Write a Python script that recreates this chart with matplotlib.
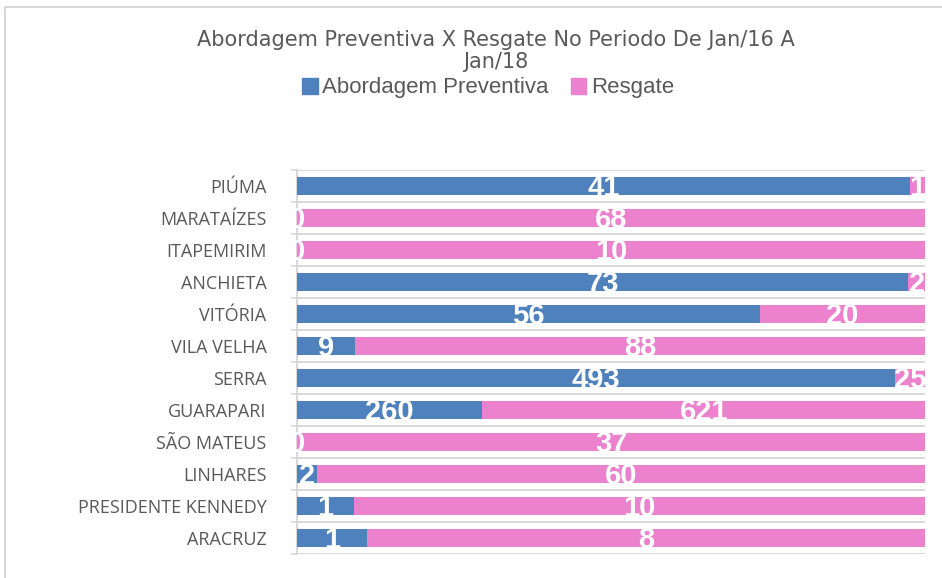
import matplotlib.pyplot as plt
import matplotlib.patches as mpatches
import numpy as np

# dados
cidades = ["PIÚMA", "MARATAÍZES", "ITAPEMIRIM", "ANCHIETA", "VITÓRIA", "VILA VELHA",
           "SERRA", "GUARAPARI", "SÃO MATEUS", "LINHARES", "PRESIDENTE KENNEDY", "ARACRUZ"]
abordagem = [41, 0, 0, 73, 56, 9, 493, 260, 0, 2, 1, 1]
resgate = [1, 68, 10, 2, 20, 88, 25, 621, 37, 60, 10, 8]

azul = "#4F81BD"
rosa = "#EC82CE"
cinza = "#595959"

ab = np.array(abordagem, dtype=float)
re = np.array(resgate, dtype=float)
total = ab + re
ab_pct = ab / total
re_pct = re / total

fig = plt.figure(figsize=(9.42, 5.78), dpi=100)
ax = fig.add_axes([297/942, 1-554/578, (925-297)/942, (554-170)/578])

y = np.arange(len(cidades))
ax.barh(y, ab_pct, height=0.58, color=azul, zorder=3)
ax.barh(y, re_pct, left=ab_pct, height=0.58, color=rosa, zorder=3)

for i in range(len(cidades)):
    ax.text(ab_pct[i]/2, i+0.07, str(abordagem[i]), color="white", ha="center", va="center",
            fontsize=21, fontweight="bold", family="Liberation Sans", zorder=4, clip_on=False)
    ax.text(ab_pct[i] + re_pct[i]/2, i+0.07, str(resgate[i]), color="white", ha="center", va="center",
            fontsize=21, fontweight="bold", family="Liberation Sans", zorder=4, clip_on=False)

ax.set_xlim(0, 1)
ax.set_ylim(len(cidades)-0.5, -0.5)
ax.set_yticks(y)
ax.set_yticklabels(cidades, fontsize=13, color=cinza, family="Open Sans")
ax.set_yticks(np.arange(len(cidades)+1)-0.5, minor=True)
ax.tick_params(axis="y", which="major", length=0, pad=22)
ax.tick_params(axis="y", which="minor", length=4, color="#D9D9D9", width=1.2)
ax.set_xticks([])
ax.grid(axis="y", which="minor", color="#D9D9D9", linewidth=1.5, zorder=0)
for s in ["top", "right", "bottom"]:
    ax.spines[s].set_visible(False)
ax.spines["left"].set_color("#D9D9D9")
ax.spines["left"].set_linewidth(1.5)

# moldura do grafico
fig.patches.append(mpatches.Rectangle((5/942, -0.05), 1.1, 1-7/578+0.05, transform=fig.transFigure,
                                      fill=False, edgecolor="#D9D9D9", linewidth=1.5))

fig.text(496/942, 1-51/578, "Abordagem Preventiva X Resgate No Periodo De Jan/16 A\nJan/18",
         ha="center", va="center", fontsize=15, color=cinza, family="DejaVu Sans", linespacing=1.1)

handles = [mpatches.Patch(color=azul, label="Abordagem Preventiva"),
           mpatches.Patch(color=rosa, label="Resgate")]
fig.legend(handles=handles, loc="center", bbox_to_anchor=(488/942, 1-88/578), ncol=2, frameon=False,
           prop={"family": ["Liberation Sans Narrow", "Liberation Sans"], "size": 16},
           labelcolor=cinza, handlelength=0.7, handleheight=0.7, handletextpad=0.2, columnspacing=1.0)

fig.savefig("out.png", dpi=100)
